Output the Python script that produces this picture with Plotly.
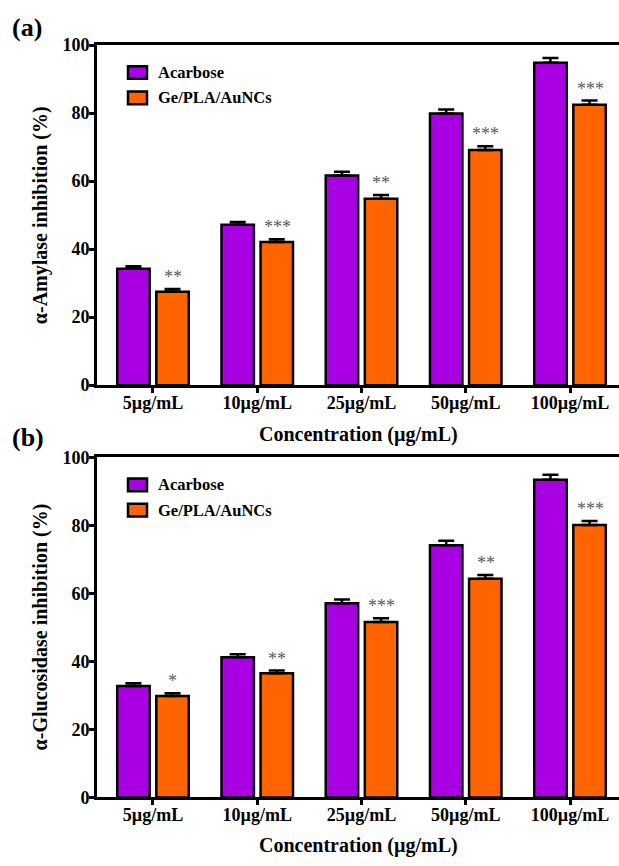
import plotly.graph_objects as go

categories = ["5µg/mL", "10µg/mL", "25µg/mL", "50µg/mL", "100µg/mL"]
series_names = ["Acarbose", "Ge/PLA/AuNCs"]

# Panel (a): alpha-amylase inhibition (%)
amy_acarbose = [34.2, 47.2, 61.7, 79.9, 94.8]
amy_acarbose_err = [0.8, 0.8, 1.1, 1.2, 1.4]
amy_aunc = [27.5, 42.1, 54.8, 69.2, 82.5]
amy_aunc_err = [0.8, 0.8, 1.1, 1.1, 1.2]
amy_stars = ["**", "***", "**", "***", "***"]

# Panel (b): alpha-glucosidase inhibition (%)
glu_acarbose = [32.8, 41.2, 57.1, 74.2, 93.4]
glu_acarbose_err = [0.8, 0.9, 1.1, 1.3, 1.5]
glu_aunc = [29.8, 36.5, 51.6, 64.3, 80.1]
glu_aunc_err = [0.8, 0.8, 1.1, 1.1, 1.2]
glu_stars = ["*", "**", "***", "**", "***"]

y_ticks = [0, 20, 40, 60, 80, 100]

PURPLE = "#A800E2"
ORANGE = "#FF6400"
COLORS = [PURPLE, ORANGE]
FONT = "Liberation Serif"

W, H, L = 619, 866, 97
PW = W - L


def px(x):
    return (x - L) / PW


def py(y):
    return 1 - y / H


fig = go.Figure()

panels = [
    ("x", "y", amy_acarbose, amy_acarbose_err, amy_aunc, amy_aunc_err, amy_stars),
    ("x2", "y2", glu_acarbose, glu_acarbose_err, glu_aunc, glu_aunc_err, glu_stars),
]

for xa, ya, a, ae, b, be, stars in panels:
    for name, vals, errs, col in [
        (series_names[0], a, ae, COLORS[0]),
        (series_names[1], b, be, COLORS[1]),
    ]:
        fig.add_trace(go.Bar(
            x=categories, y=vals, name=name, showlegend=False,
            xaxis=xa, yaxis=ya,
            marker=dict(color=col, line=dict(color="black", width=2.5)),
            error_y=dict(type="data", array=errs, arrayminus=[0] * len(errs),
                         symmetric=False, color="black", thickness=2.5, width=8),
        ))
    for i, s in enumerate(stars):
        fig.add_annotation(
            x=i, y=b[i] + be[i], xref=xa, yref=ya, text=s, showarrow=False,
            xshift=20, yanchor="bottom", yshift=0,
            font=dict(family=FONT, size=18, color="#5a5a5a"),
        )

axis_common = dict(
    showline=True, linecolor="black", linewidth=3,
    ticks="outside", ticklen=5, tickwidth=2.5, tickcolor="black",
    showgrid=False, zeroline=False,
    tickfont=dict(family=FONT, size=18, color="black", weight="bold"),
)

x_range = [-0.537, 4.47]
fig.update_layout(
    width=W, height=H,
    margin=dict(l=L, r=0, t=0, b=0),
    paper_bgcolor="white", plot_bgcolor="white",
    barmode="group", bargap=0.25, bargroupgap=0.17,
    font=dict(family=FONT, color="black"),
    showlegend=False,
    xaxis=dict(domain=[0, 1], anchor="y", range=x_range, mirror=True, ticklabelstandoff=-6, **axis_common),
    yaxis=dict(domain=[py(384), py(36)], anchor="x", range=[0, 100], tickvals=y_ticks, ticklabelstandoff=-4, **axis_common),
    xaxis2=dict(domain=[0, 1], anchor="y2", range=x_range, mirror=True, ticklabelstandoff=-6, **axis_common),
    yaxis2=dict(domain=[py(806), py(458)], anchor="x2", range=[0, 100], tickvals=y_ticks, ticklabelstandoff=-4, **axis_common),
)

# legends (one per panel)
leg_font = dict(family=FONT, size=16.5, color="black", weight="bold")
for top in (0, 422):
    for k, (name, col) in enumerate(zip(series_names, COLORS)):
        cy = 64 + top + 26 * k
        fig.add_shape(type="rect", xref="paper", yref="paper",
                      x0=px(128), x1=px(147), y0=py(cy - 6.5), y1=py(cy + 6.5),
                      fillcolor=col, line=dict(color="black", width=2.5))
        fig.add_annotation(text=name, x=px(156), y=py(cy), xref="paper", yref="paper",
                           showarrow=False, xanchor="left", yanchor="middle", font=leg_font)

# axis titles and panel labels
title_font = dict(family=FONT, size=20, color="black", weight="bold")
fig.add_annotation(text="α-Amylase inhibition (%)", x=px(40), y=py(210),
                   xref="paper", yref="paper", textangle=-90, showarrow=False,
                   xanchor="center", yanchor="middle", font=title_font)
fig.add_annotation(text="α-Glucosidase inhibition (%)", x=px(40), y=py(632),
                   xref="paper", yref="paper", textangle=-90, showarrow=False,
                   xanchor="center", yanchor="middle", font=title_font)
fig.add_annotation(text="Concentration (µg/mL)", x=px(358), y=py(435),
                   xref="paper", yref="paper", showarrow=False,
                   xanchor="center", yanchor="middle", font=title_font)
fig.add_annotation(text="Concentration (µg/mL)", x=px(358), y=py(855),
                   xref="paper", yref="paper", showarrow=False,
                   xanchor="center", yanchor="middle", font=title_font)
panel_font = dict(family=FONT, size=26, color="black", weight="bold")
fig.add_annotation(text="(a)", x=px(10), y=py(18), xref="paper", yref="paper",
                   showarrow=False, xanchor="left", yanchor="middle", font=panel_font)
fig.add_annotation(text="(b)", x=px(10), y=py(438), xref="paper", yref="paper",
                   showarrow=False, xanchor="left", yanchor="middle", font=panel_font)

fig.write_html("out.html")
